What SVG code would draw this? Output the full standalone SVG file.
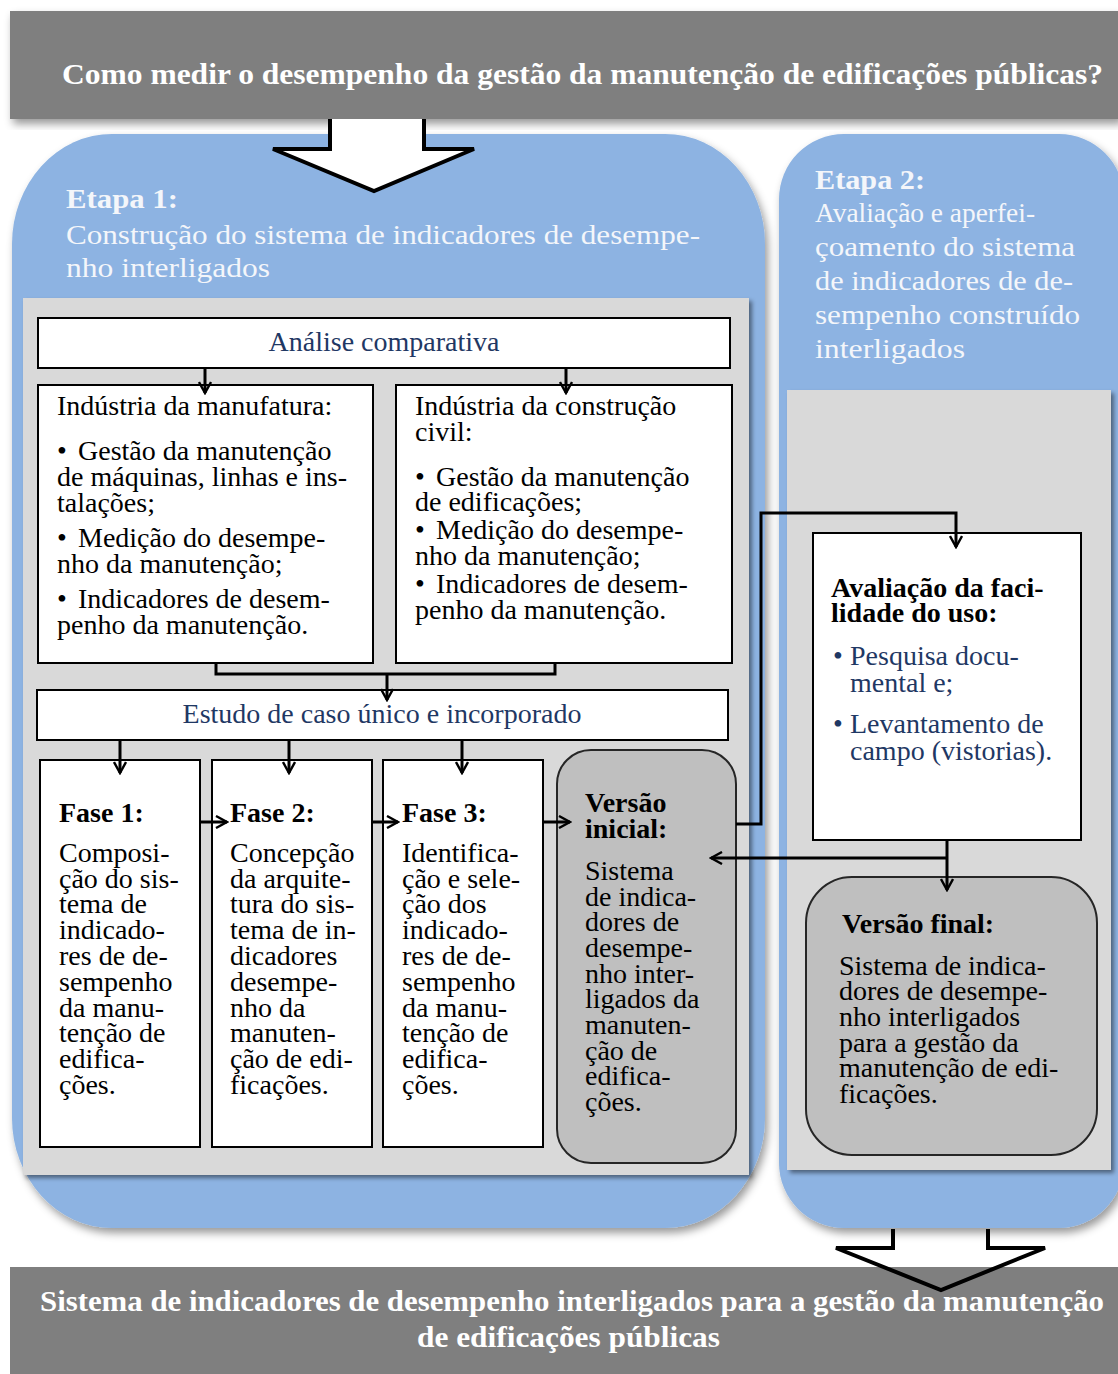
<svg xmlns="http://www.w3.org/2000/svg" width="1118" height="1374" viewBox="0 0 1118 1374">
  <defs>
    <filter id="softShadow" x="-5%" y="-5%" width="115%" height="115%">
      <feDropShadow dx="3" dy="5" stdDeviation="4" flood-color="#000" flood-opacity="0.4"/>
    </filter>
    <filter id="panelShadow" x="-5%" y="-5%" width="110%" height="110%">
      <feDropShadow dx="3" dy="3" stdDeviation="2" flood-color="#000" flood-opacity="0.45"/>
    </filter>
    <marker id="arrowHead" viewBox="0 0 14 14" refX="12" refY="7" markerWidth="14" markerHeight="14" markerUnits="userSpaceOnUse" orient="auto">
      <path d="M1,1 L12,7 L1,13" fill="none" stroke="#000" stroke-width="2.4"/>
    </marker>
  </defs>
  <style>
    text { font-family: "Liberation Serif", "Times New Roman", serif; }
    .body { font-size: 28px; fill: #000; }
    .b { font-weight: bold; }
    .navy { fill: #1f3864; }
    .white { fill: #fff; }
    .head { font-size: 28px; fill: #f4f6fa; }
    .banner { fill: #7f7f7f; }
    .banner-text { font-size: 30px; font-weight: bold; fill: #fff; }
    .stage { fill: #8db3e2; }
    .panel { fill: #d9d9d9; }
    .box { fill: #fff; stroke: #000; stroke-width: 2; }
    .version { fill: #bfbfbf; stroke: #262626; stroke-width: 2; }
    .conn { fill: none; stroke: #000; stroke-width: 3; }
    .bigarrow { stroke: #000; stroke-width: 4; stroke-linejoin: miter; }
  </style>

  <rect width="1118" height="1374" fill="#fff"/>

  <!-- Stage backgrounds -->
  <g id="etapa1">
    <rect class="stage" x="12" y="134" width="753" height="1094" rx="100" ry="110" filter="url(#softShadow)"/>
    <text class="head b" x="66" y="208" textLength="112" lengthAdjust="spacingAndGlyphs">Etapa 1:</text>
    <text class="head" x="66" y="244" textLength="634" lengthAdjust="spacingAndGlyphs">Construção do sistema de indicadores de desempe-</text>
    <text class="head" x="66" y="277" textLength="204" lengthAdjust="spacingAndGlyphs">nho interligados</text>
    <rect class="panel" x="23" y="298" width="726" height="877" filter="url(#panelShadow)"/>
  </g>

  <g id="etapa2">
    <rect class="stage" x="779" y="134" width="345" height="1094" rx="65" ry="65" filter="url(#softShadow)"/>
    <text class="head b" x="815" y="189" textLength="110" lengthAdjust="spacingAndGlyphs">Etapa 2:</text>
    <text class="head" x="815" y="222" textLength="220" lengthAdjust="spacingAndGlyphs">Avaliação e aperfei-</text>
    <text class="head" x="815" y="256" textLength="260" lengthAdjust="spacingAndGlyphs">çoamento do sistema</text>
    <text class="head" x="815" y="290" textLength="258" lengthAdjust="spacingAndGlyphs">de indicadores de de-</text>
    <text class="head" x="815" y="324" textLength="265" lengthAdjust="spacingAndGlyphs">sempenho construído</text>
    <text class="head" x="815" y="358" textLength="150" lengthAdjust="spacingAndGlyphs">interligados</text>
    <rect class="panel" x="787" y="390" width="324" height="780" filter="url(#panelShadow)"/>
  </g>

  <!-- Question banner and the block arrow leading into stage 1 -->
  <g id="question">
    <rect class="banner" x="10" y="11" width="1110" height="108" filter="url(#softShadow)"/>
    <text class="banner-text" x="62" y="84" textLength="1041" lengthAdjust="spacingAndGlyphs">Como medir o desempenho da gestão da manutenção de edificações públicas?</text>
  </g>
  <path id="arrow-in" class="bigarrow" fill="#fff" d="M330,119 V149 H273 L374,191 L474,149 H424 V119"/>

  <!-- Stage 1 nodes -->
  <g id="analise">
    <rect class="box" x="38" y="318" width="692" height="50"/>
    <text class="body navy" x="384" y="351" text-anchor="middle">Análise comparativa</text>
  </g>

  <g id="manufatura">
    <rect class="box" x="38" y="385" width="335" height="278"/>
    <text class="body" x="57" y="415">Indústria da manufatura:</text>
    <text class="body" x="57" y="460">•</text><text class="body" x="78" y="460">Gestão da manutenção</text>
    <text class="body" x="57" y="486">de máquinas, linhas e ins-</text>
    <text class="body" x="57" y="512">talações;</text>
    <text class="body" x="57" y="547">•</text><text class="body" x="78" y="547">Medição do desempe-</text>
    <text class="body" x="57" y="573">nho da manutenção;</text>
    <text class="body" x="57" y="608">•</text><text class="body" x="78" y="608">Indicadores de desem-</text>
    <text class="body" x="57" y="634">penho da manutenção.</text>
  </g>

  <g id="construcao">
    <rect class="box" x="396" y="385" width="336" height="278"/>
    <text class="body" x="415" y="415">Indústria da construção</text>
    <text class="body" x="415" y="441">civil:</text>
    <text class="body" x="415" y="486">•</text><text class="body" x="436" y="486">Gestão da manutenção</text>
    <text class="body" x="415" y="511">de edificações;</text>
    <text class="body" x="415" y="539">•</text><text class="body" x="436" y="539">Medição do desempe-</text>
    <text class="body" x="415" y="565">nho da manutenção;</text>
    <text class="body" x="415" y="593">•</text><text class="body" x="436" y="593">Indicadores de desem-</text>
    <text class="body" x="415" y="619">penho da manutenção.</text>
  </g>

  <g id="estudo">
    <rect class="box" x="37" y="690" width="691" height="50"/>
    <text class="body navy" x="382" y="723" text-anchor="middle">Estudo de caso único e incorporado</text>
  </g>

  <g id="fase1">
    <rect class="box" x="40" y="760" width="160" height="387"/>
    <text class="body b" x="59" y="822">Fase 1:</text>
    <text class="body" x="59" y="862">Composi-</text>
    <text class="body" x="59" y="888">ção do sis-</text>
    <text class="body" x="59" y="913">tema de</text>
    <text class="body" x="59" y="939">indicado-</text>
    <text class="body" x="59" y="965">res de de-</text>
    <text class="body" x="59" y="991">sempenho</text>
    <text class="body" x="59" y="1017">da manu-</text>
    <text class="body" x="59" y="1042">tenção de</text>
    <text class="body" x="59" y="1068">edifica-</text>
    <text class="body" x="59" y="1094">ções.</text>
  </g>

  <g id="fase2">
    <rect class="box" x="212" y="760" width="160" height="387"/>
    <text class="body b" x="230" y="822">Fase 2:</text>
    <text class="body" x="230" y="862">Concepção</text>
    <text class="body" x="230" y="888">da arquite-</text>
    <text class="body" x="230" y="913">tura do sis-</text>
    <text class="body" x="230" y="939">tema de in-</text>
    <text class="body" x="230" y="965">dicadores</text>
    <text class="body" x="230" y="991">desempe-</text>
    <text class="body" x="230" y="1017">nho da</text>
    <text class="body" x="230" y="1042">manuten-</text>
    <text class="body" x="230" y="1068">ção de edi-</text>
    <text class="body" x="230" y="1094">ficações.</text>
  </g>

  <g id="fase3">
    <rect class="box" x="383" y="760" width="160" height="387"/>
    <text class="body b" x="402" y="822">Fase 3:</text>
    <text class="body" x="402" y="862">Identifica-</text>
    <text class="body" x="402" y="888">ção e sele-</text>
    <text class="body" x="402" y="913">ção dos</text>
    <text class="body" x="402" y="939">indicado-</text>
    <text class="body" x="402" y="965">res de de-</text>
    <text class="body" x="402" y="991">sempenho</text>
    <text class="body" x="402" y="1017">da manu-</text>
    <text class="body" x="402" y="1042">tenção de</text>
    <text class="body" x="402" y="1068">edifica-</text>
    <text class="body" x="402" y="1094">ções.</text>
  </g>

  <g id="versao-inicial">
    <rect class="version" x="557" y="750" width="179" height="413" rx="34" ry="34"/>
    <text class="body b" x="585" y="812">Versão</text>
    <text class="body b" x="585" y="838">inicial:</text>
    <text class="body" x="585" y="880">Sistema</text>
    <text class="body" x="585" y="906">de indica-</text>
    <text class="body" x="585" y="931">dores de</text>
    <text class="body" x="585" y="957">desempe-</text>
    <text class="body" x="585" y="983">nho inter-</text>
    <text class="body" x="585" y="1008">ligados da</text>
    <text class="body" x="585" y="1034">manuten-</text>
    <text class="body" x="585" y="1060">ção de</text>
    <text class="body" x="585" y="1085">edifica-</text>
    <text class="body" x="585" y="1111">ções.</text>
  </g>

  <!-- Stage 2 nodes -->
  <g id="avaliacao">
    <rect class="box" x="813" y="533" width="268" height="307"/>
    <text class="body b" x="831" y="597">Avaliação da faci-</text>
    <text class="body b" x="831" y="622">lidade do uso:</text>
    <text class="body navy" x="833" y="665">•</text><text class="body navy" x="850" y="665">Pesquisa docu-</text>
    <text class="body navy" x="850" y="692">mental e;</text>
    <text class="body navy" x="833" y="733">•</text><text class="body navy" x="850" y="733">Levantamento de</text>
    <text class="body navy" x="850" y="760">campo (vistorias).</text>
  </g>

  <g id="versao-final">
    <rect class="version" x="806" y="877" width="291" height="278" rx="46" ry="46"/>
    <text class="body b" x="842" y="933">Versão final:</text>
    <text class="body" x="839" y="975">Sistema de indica-</text>
    <text class="body" x="839" y="1000">dores de desempe-</text>
    <text class="body" x="839" y="1026">nho interligados</text>
    <text class="body" x="839" y="1052">para a gestão da</text>
    <text class="body" x="839" y="1077">manutenção de edi-</text>
    <text class="body" x="839" y="1103">ficações.</text>
  </g>

  <!-- Connectors -->
  <g id="connectors" class="conn">
    <path d="M205,368 V393" marker-end="url(#arrowHead)"/>
    <path d="M566,368 V393" marker-end="url(#arrowHead)"/>
    <path d="M216,663 V674 H555 V663"/>
    <path d="M387,674 V700" marker-end="url(#arrowHead)"/>
    <path d="M120,740 V773" marker-end="url(#arrowHead)"/>
    <path d="M289,740 V773" marker-end="url(#arrowHead)"/>
    <path d="M462,740 V773" marker-end="url(#arrowHead)"/>
    <path d="M200,822 H227" marker-end="url(#arrowHead)"/>
    <path d="M372,822 H398" marker-end="url(#arrowHead)"/>
    <path d="M543,822 H570" marker-end="url(#arrowHead)"/>
    <path d="M736,824 H761 V513 H956 V547" marker-end="url(#arrowHead)"/>
    <path d="M947,840 V890" marker-end="url(#arrowHead)"/>
    <path d="M947,858 H711" marker-end="url(#arrowHead)"/>
  </g>

  <!-- Result banner with the block arrow coming out of stage 2 -->
  <g id="resultado">
    <rect class="banner" x="10" y="1267" width="1110" height="110"/>
    <text class="banner-text" x="40" y="1311" textLength="1064" lengthAdjust="spacingAndGlyphs">Sistema de indicadores de desempenho interligados para a gestão da manutenção</text>
    <text class="banner-text" x="417" y="1347" textLength="303" lengthAdjust="spacingAndGlyphs">de edificações públicas</text>
  </g>
  <path id="arrow-out" class="bigarrow" fill="none" d="M893,1229 V1248 H836 L941,1290 L1045,1248 H988 V1229"/>
</svg>
